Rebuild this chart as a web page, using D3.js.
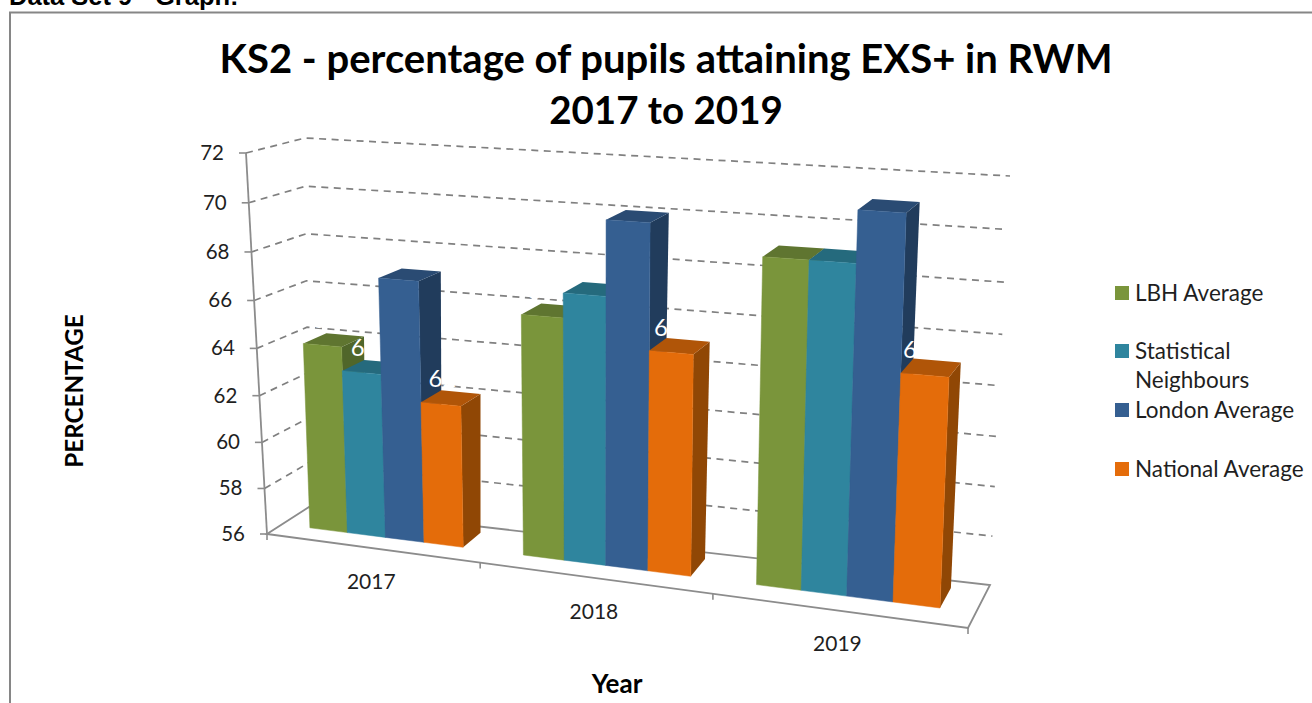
<!DOCTYPE html>
<html>
<head>
<meta charset="utf-8">
<title>KS2 RWM</title>
<script src="https://cdn.jsdelivr.net/npm/d3@7/dist/d3.min.js"></script>
<style>
  html, body { margin: 0; padding: 0; background: #fff; overflow: hidden; }
  svg { display: block; }
  text { font-family: Lato, "Open Sans", sans-serif; fill: #1f1f1f; }
</style>
</head>
<body>
<svg id="chart" width="1312" height="703"></svg>
<script>
(function() {
  'use strict';

  //---DATA
  var years = ['2017', '2018', '2019'];
  var series_names = ['LBH Average', 'Statistical Neighbours', 'London Average', 'National Average'];
  var lbh_values = [64, 66, 69];
  var neighbour_values = [63, 67, 69];
  var london_values = [67, 70, 71];
  var national_values = [62, 65, 65];
  var value_ticks = [56, 58, 60, 62, 64, 66, 68, 70, 72];

  var all_values = [lbh_values, neighbour_values, london_values, national_values];

  //---COLOURS (front, top, side)
  var paleta = [
    { front: '#7a953b', top: '#5f7530', side: '#50662a' },
    { front: '#2f859e', top: '#256a7d', side: '#1f5868' },
    { front: '#355f91', top: '#2a4b73', side: '#213c5c' },
    { front: '#e46c0a', top: '#b05508', side: '#904705' }
  ];
  var c_axis = '#8c8c8c';

  //---BOX CORNERS OF THE 3D PLOT (f front, b back, l left, r right, 0 bottom, 1 top)
  var box = {
    fl0: [267, 534], fl1: [246, 153],
    bl0: [309, 507], bl1: [305, 138],
    fr0: [968, 628], fr1: [985, 199],
    br0: [990, 585], br1: [1010, 176]
  };
  var k_u = 0.874,  //--foreshortening along the year axis
    k_v = 0.95,
    w0 = 0.36,      //--bar front, as a share of floor depth
    w1 = 0.83;

  //----SCALES
  var x_year = d3.scaleBand()
    .domain(years)
    .range([0, 1])
    .paddingInner(0.273)
    .paddingOuter(0.1365);

  var x_series = d3.scaleBand()
    .domain(d3.range(series_names.length))
    .range([0, x_year.bandwidth()]);

  var y_value = d3.scaleLinear()
    .domain([56, 72])
    .range([0, 1]);

  function foreshort(t, k) {
    return k * t / (1 + (k - 1) * t);
  }

  function lerp(a, b, t) {
    return [a[0] + (b[0] - a[0]) * t, a[1] + (b[1] - a[1]) * t];
  }

  //--- u: 0..1 along years, val: chart value, w: 0 front .. 1 back
  function project(u, val, w) {
    var t = foreshort(u, k_u);
    var s = foreshort(y_value(val), k_v);
    var front = lerp(lerp(box.fl0, box.fr0, t), lerp(box.fl1, box.fr1, t), s);
    var back = lerp(lerp(box.bl0, box.br0, t), lerp(box.bl1, box.br1, t), s);
    return lerp(front, back, w);
  }

  function poly(points) {
    return points.map(function(p) {
      return p[0].toFixed(1) + ',' + p[1].toFixed(1);
    }).join(' ');
  }

  var svg = d3.select('#chart');

  //---PAGE HEADING + FRAME
  svg.append('text')
    .attr('x', 9)
    .attr('y', 5)
    .style('font-family', '"Liberation Sans", Arial, sans-serif')
    .style('font-weight', 'bold')
    .style('font-size', '25.5px')
    .style('fill', '#000')
    .text('Data Set 9 - Graph:');

  svg.append('path')
    .attr('d', 'M10,703V12.5H1312')
    .attr('fill', 'none')
    .attr('stroke', '#868686')
    .attr('stroke-width', 2);

  //---TITLE
  svg.selectAll('text.title')
    .data(['KS2 - percentage of pupils attaining EXS+ in RWM', '2017 to 2019'])
    .enter()
    .append('text')
    .attr('class', 'title')
    .attr('x', 666)
    .attr('y', function(d, i) { return 73 + i * 51; })
    .attr('text-anchor', 'middle')
    .style('font-weight', 'bold')
    .style('font-size', function(d, i) { return i ? '38.5px' : '40px'; })
    .style('fill', '#000')
    .text(function(d) { return d; });

  //---GRID LINES
  var grid = svg.append('g').attr('class', 'grid');

  grid.selectAll('polyline')
    .data(value_ticks.slice(1))
    .enter()
    .append('polyline')
    .attr('points', function(d) {
      return poly([project(0, d, 0), project(0, d, 1), project(1, d, 1)]);
    })
    .attr('fill', 'none')
    .attr('stroke', '#808080')
    .attr('stroke-width', 1.7)
    .attr('stroke-dasharray', '7,5.5');

  //---FLOOR
  svg.append('polygon')
    .attr('points', poly([project(0, 56, 0), project(1, 56, 0), project(1, 56, 1), project(0, 56, 1)]))
    .attr('fill', 'none')
    .attr('stroke', c_axis)
    .attr('stroke-width', 1.8);

  //---VALUE AXIS
  var axis_y = svg.append('g').attr('class', 'axis_y');

  axis_y.append('line')
    .attr('x1', project(0, 56, 0)[0])
    .attr('y1', project(0, 56, 0)[1])
    .attr('x2', project(0, 72, 0)[0])
    .attr('y2', project(0, 72, 0)[1])
    .attr('stroke', c_axis)
    .attr('stroke-width', 1.8);

  var tick_y = axis_y.selectAll('g')
    .data(value_ticks)
    .enter()
    .append('g')
    .attr('transform', function(d) {
      var p = project(0, d, 0);
      return 'translate(' + p[0] + ',' + p[1] + ')';
    });

  tick_y.append('line')
    .attr('x1', -7)
    .attr('x2', 0)
    .attr('stroke', c_axis)
    .attr('stroke-width', 1.6);

  tick_y.append('text')
    .attr('x', -22)
    .attr('y', 7)
    .attr('text-anchor', 'end')
    .style('font-size', '20.5px')
    .text(function(d) { return d; });

  //---YEAR AXIS
  svg.append('g').attr('class', 'axis_x')
    .selectAll('line')
    .data([0, 1 / 3, 2 / 3, 1])
    .enter()
    .append('line')
    .attr('x1', function(d) { return project(d, 56, 0)[0]; })
    .attr('y1', function(d) { return project(d, 56, 0)[1]; })
    .attr('x2', function(d) { return project(d, 56, 0)[0]; })
    .attr('y2', function(d) { return project(d, 56, 0)[1] + 6; })
    .attr('stroke', c_axis)
    .attr('stroke-width', 1.6);

  svg.append('g')
    .selectAll('text')
    .data(years)
    .enter()
    .append('text')
    .attr('x', function(d) {
      return project(x_year(d) + x_year.bandwidth() / 2, 56, 0)[0];
    })
    .attr('y', function(d) {
      return project(x_year(d) + x_year.bandwidth() / 2, 56, 0)[1] + 41;
    })
    .attr('text-anchor', 'middle')
    .style('font-size', '21px')
    .text(function(d) { return d; });

  //---BARS, left to right so that each one covers the one before
  var bars = [];
  years.forEach(function(year, i) {
    all_values.forEach(function(values, s) {
      bars.push({ year: year, series: s, value: values[i] });
    });
  });

  var bar_g = svg.append('g').attr('class', 'bars')
    .selectAll('g')
    .data(bars)
    .enter()
    .append('g');

  function u_left(d) { return x_year(d.year) + x_series(d.series); }
  function u_right(d) { return u_left(d) + x_series.bandwidth(); }
  function u_mid(d) { return (u_left(d) + u_right(d)) / 2; }

  bar_g.append('polygon')
    .attr('points', function(d) {
      return poly([
        project(u_right(d), 56, w0), project(u_right(d), 56, w1),
        project(u_right(d), d.value, w1), project(u_right(d), d.value, w0)
      ]);
    })
    .attr('fill', function(d) { return paleta[d.series].side; });

  bar_g.append('polygon')
    .attr('points', function(d) {
      return poly([
        project(u_left(d), d.value, w0), project(u_right(d), d.value, w0),
        project(u_right(d), d.value, w1), project(u_left(d), d.value, w1)
      ]);
    })
    .attr('fill', function(d) { return paleta[d.series].top; });

  bar_g.append('polygon')
    .attr('points', function(d) {
      return poly([
        project(u_left(d), 56, w0), project(u_right(d), 56, w0),
        project(u_right(d), d.value, w0), project(u_left(d), d.value, w0)
      ]);
    })
    .attr('fill', function(d) { return paleta[d.series].front; })
    .attr('stroke', function(d) { return paleta[d.series].front; })
    .attr('stroke-width', 0.5);

  //---white value labels, mostly lost on the white wall as in the original
  //---(they drift left of the bar centre going right along the axis)
  bar_g.append('text')
    .attr('x', function(d) {
      return project(u_mid(d), d.value, w0)[0] + 5 - 14 * u_mid(d);
    })
    .attr('y', function(d) {
      return project(u_mid(d), d.value, w0)[1] - 17;
    })
    .attr('text-anchor', 'middle')
    .style('font-size', '24px')
    .style('fill', '#fff')
    .text(function(d) { return d.value; });

  //---AXIS TITLES
  svg.append('text')
    .attr('x', 617)
    .attr('y', 693)
    .attr('text-anchor', 'middle')
    .style('font-weight', 'bold')
    .style('font-size', '26px')
    .style('fill', '#000')
    .text('Year');

  svg.append('text')
    .attr('transform', 'translate(83,391) rotate(-90)')
    .attr('text-anchor', 'middle')
    .style('font-weight', 'bold')
    .style('font-size', '24.2px')
    .style('fill', '#000')
    .text('PERCENTAGE');

  //---LEGEND
  var legend_rows = [
    { lines: ['LBH Average'], y: 293 },
    { lines: ['Statistical', 'Neighbours'], y: 351 },
    { lines: ['London Average'], y: 410 },
    { lines: ['National Average'], y: 469 }
  ];

  var legend = svg.append('g').attr('class', 'legend')
    .selectAll('g')
    .data(legend_rows)
    .enter()
    .append('g')
    .attr('transform', function(d) { return 'translate(1115,' + d.y + ')'; });

  legend.append('rect')
    .attr('y', -7)
    .attr('width', 14)
    .attr('height', 14)
    .attr('fill', function(d, i) { return paleta[i].front; });

  legend.append('text')
    .attr('x', 20)
    .attr('y', 8)
    .style('font-size', '22.5px')
    .selectAll('tspan')
    .data(function(d) { return d.lines; })
    .enter()
    .append('tspan')
    .attr('x', 20)
    .attr('dy', function(d, i) { return i ? 29 : 0; })
    .text(function(d) { return d; });

})();
</script>
</body>
</html>
